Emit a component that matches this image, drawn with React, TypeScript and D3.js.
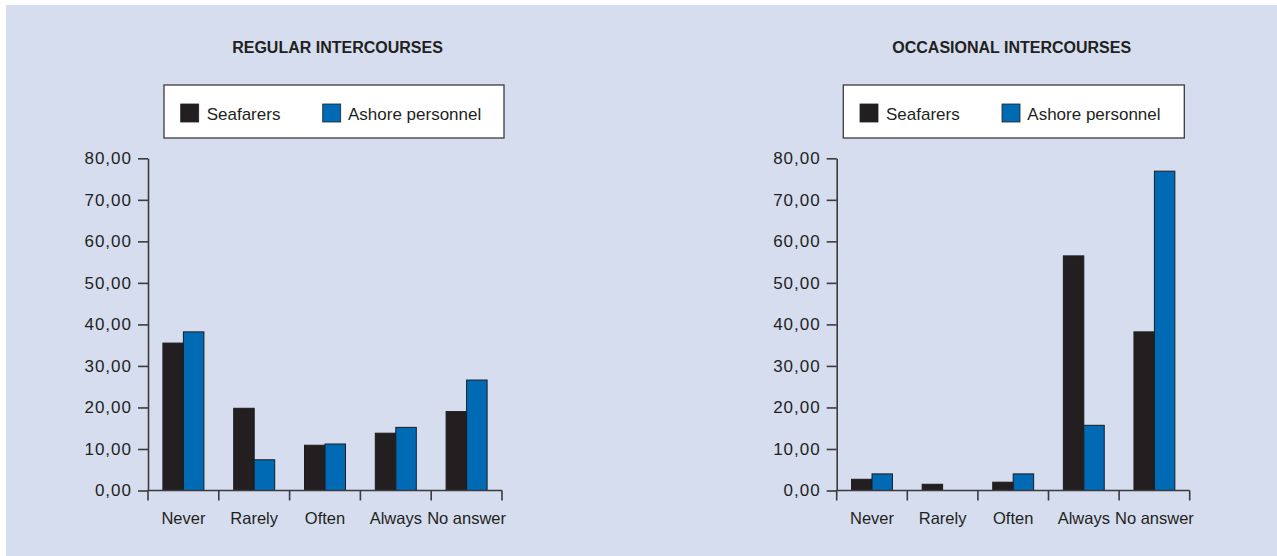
import React, { useRef, useEffect } from "react";
import * as d3 from "d3";

const categories = ["Never", "Rarely", "Often", "Always", "No answer"];
const seriesNames = ["Seafarers", "Ashore personnel"];
const yTicks = [0, 10, 20, 30, 40, 50, 60, 70, 80];

const regularSeafarers = [35.5, 19.8, 10.9, 13.8, 19.0];
const regularAshore = [38.2, 7.4, 11.2, 15.2, 26.6];
const occasionalSeafarers = [2.7, 1.5, 2.0, 56.5, 38.2];
const occasionalAshore = [4.0, 0, 4.0, 15.7, 76.9];

const W = 1277;
const H = 556;
const colors = ["#231f20", "#006ab4"];
const textColor = "#231f20";
const axisColor = "#3b3b3d";
const font = "'Liberation Sans', Arial, sans-serif";

type Panel = {
  title: string;
  left: number;
  right: number;
  legendX: number;
  legendW: number;
  titleX: number;
  values: number[][];
};

const App = () => {
  const svgRef = useRef<SVGSVGElement>(null);

  useEffect(() => {
    const svg = d3.select(svgRef.current);
    svg.selectAll("*").remove();

    // panel background
    svg
      .append("rect")
      .attr("x", 6)
      .attr("y", 5)
      .attr("width", W - 6)
      .attr("height", H - 5)
      .attr("fill", "#d5ddef");

    const panels: Panel[] = [
      {
        title: "REGULAR INTERCOURSES",
        left: 148,
        right: 502,
        legendX: 164,
        legendW: 340,
        titleX: 337.5,
        values: [regularSeafarers, regularAshore],
      },
      {
        title: "OCCASIONAL INTERCOURSES",
        left: 836.7,
        right: 1189.7,
        legendX: 843.3,
        legendW: 341,
        titleX: 1011.7,
        values: [occasionalSeafarers, occasionalAshore],
      },
    ];

    const y = d3.scaleLinear().domain([0, 80]).range([490.5, 158.3]);

    panels.forEach((p) => {
      const g = svg.append("g");

      // title
      g.append("text")
        .attr("x", p.titleX)
        .attr("y", 53)
        .attr("text-anchor", "middle")
        .attr("font-family", font)
        .attr("font-weight", "bold")
        .attr("font-size", 16)
        .attr("fill", textColor)
        .text(p.title);

      // legend
      g.append("rect")
        .attr("x", p.legendX)
        .attr("y", 85)
        .attr("width", p.legendW)
        .attr("height", 53)
        .attr("fill", "#fff")
        .attr("stroke", axisColor)
        .attr("stroke-width", 1.3);

      const legendOffsets = [[16.7, 42.7], [158.7, 184]];
      seriesNames.forEach((name, i) => {
        g.append("rect")
          .attr("x", p.legendX + legendOffsets[i][0])
          .attr("y", 104)
          .attr("width", 18)
          .attr("height", 18)
          .attr("fill", colors[i])
          .attr("stroke", "#222")
          .attr("stroke-width", 0.8);
        g.append("text")
          .attr("x", p.legendX + legendOffsets[i][1])
          .attr("y", 120)
          .attr("font-family", font)
          .attr("font-size", 17)
          .attr("fill", textColor)
          .text(name);
      });

      const x = d3
        .scaleBand()
        .domain(categories)
        .range([p.left, p.right])
        .paddingInner(0)
        .paddingOuter(0);

      const xSub = d3
        .scaleBand()
        .domain(seriesNames)
        .range([0, x.bandwidth()])
        .paddingInner(0)
        .paddingOuter(0.727);

      // bars
      seriesNames.forEach((name, si) => {
        const rows = categories
          .map((c, i) => ({ cat: c, v: p.values[si][i] }))
          .filter((d) => d.v > 0);
        g.append("g")
          .selectAll("rect")
          .data(rows)
          .enter()
          .append("rect")
          .attr("x", (d) => (x(d.cat) as number) + (xSub(name) as number))
          .attr("y", (d) => y(d.v))
          .attr("width", xSub.bandwidth())
          .attr("height", (d) => y(0) - y(d.v))
          .attr("fill", colors[si])
          .attr("stroke", "#1c1c1e")
          .attr("stroke-width", 1);
      });

      // y axis
      const yAxis = d3
        .axisLeft(y)
        .tickValues(yTicks)
        .tickSize(10)
        .tickSizeOuter(0)
        .tickPadding(6)
        .tickFormat((d) => (d as number).toFixed(2).replace(".", ","));
      const ya = g
        .append("g")
        .attr("transform", `translate(${p.left},0)`)
        .call(yAxis);
      ya.select(".domain").attr("stroke", axisColor).attr("stroke-width", 1.6);
      ya.selectAll(".tick line").attr("stroke", axisColor).attr("stroke-width", 1.6);
      ya.selectAll(".tick text")
        .attr("font-family", font)
        .attr("font-size", 17)
        .attr("letter-spacing", 1)
        .attr("fill", textColor);

      // x axis labels
      const xAxis = d3.axisBottom(x).tickSize(0).tickPadding(0);
      const xa = g
        .append("g")
        .attr("transform", `translate(0,${y(0)})`)
        .call(xAxis);
      xa.select(".domain").remove();
      xa.selectAll(".tick text")
        .attr("dy", 0)
        .attr("y", 33)
        .attr("font-family", font)
        .attr("font-size", 16.5)
        .attr("fill", textColor);

      // x axis line and boundary ticks
      g.append("line")
        .attr("x1", p.left)
        .attr("x2", p.right)
        .attr("y1", y(0))
        .attr("y2", y(0))
        .attr("stroke", axisColor)
        .attr("stroke-width", 1.6);
      const bounds = [...categories.map((c) => x(c) as number), p.right];
      g.append("g")
        .selectAll("line")
        .data(bounds)
        .enter()
        .append("line")
        .attr("x1", (d) => d)
        .attr("x2", (d) => d)
        .attr("y1", y(0))
        .attr("y2", y(0) + 10)
        .attr("stroke", axisColor)
        .attr("stroke-width", 1.6);
    });
  }, []);

  return (
    <svg
      ref={svgRef}
      width={W}
      height={H}
      style={{ position: "absolute", left: 0, top: 0, background: "#fff" }}
    ></svg>
  );
};

export default App;
